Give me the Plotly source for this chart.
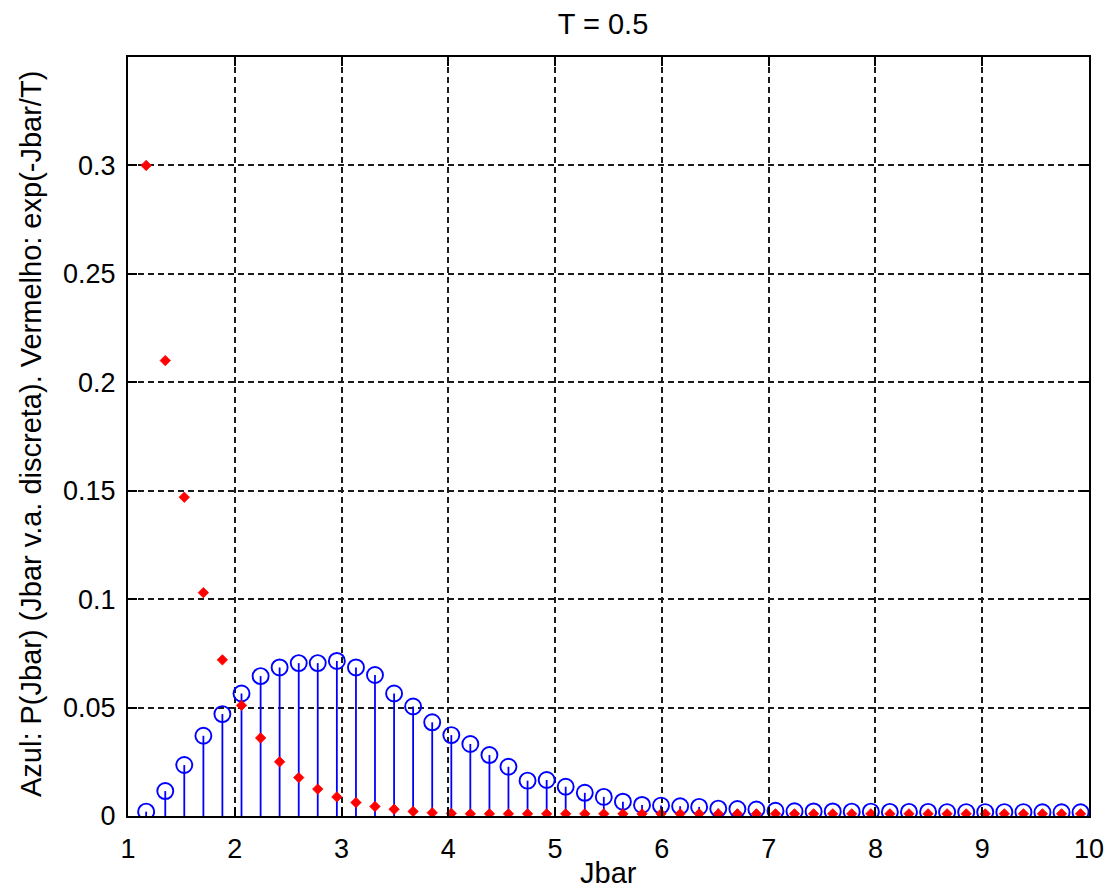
import plotly.graph_objects as go

# Jbar sample positions (discrete support)
jbar = [1.170, 1.349, 1.527, 1.706, 1.884, 2.063, 2.242, 2.420, 2.599, 2.777,
        2.956, 3.135, 3.313, 3.492, 3.670, 3.849, 4.028, 4.206, 4.385, 4.563,
        4.742, 4.921, 5.099, 5.278, 5.456, 5.635, 5.814, 5.992, 6.171, 6.349,
        6.528, 6.707, 6.885, 7.064, 7.242, 7.421, 7.600, 7.778, 7.957, 8.135,
        8.314, 8.493, 8.671, 8.850, 9.028, 9.207, 9.386, 9.564, 9.743, 9.921]

# Blue: P(Jbar), discrete random variable
p_jbar = [0.0020, 0.0115, 0.0235, 0.0370, 0.0470, 0.0565, 0.0645, 0.0685, 0.0705, 0.0705,
          0.0715, 0.0685, 0.0650, 0.0565, 0.0505, 0.0432, 0.0373, 0.0332, 0.0281, 0.0227,
          0.0163, 0.0166, 0.0135, 0.0107, 0.0088, 0.0066, 0.0051, 0.0048, 0.0045, 0.0042,
          0.0034, 0.0032, 0.0030, 0.0024, 0.0022, 0.0021, 0.0021, 0.0020, 0.0020, 0.0019,
          0.0019, 0.0019, 0.0018, 0.0018, 0.0018, 0.0018, 0.0018, 0.0017, 0.0017, 0.0017]

# Red: exp(-Jbar/T)
exp_curve = [0.3000, 0.2100, 0.1470, 0.1030, 0.0720, 0.0510, 0.0360, 0.0250, 0.0177, 0.0124,
             0.0088, 0.0062, 0.0044, 0.0031, 0.0021, 0.0015, 0.0012, 0.0010, 0.0010, 0.0010,
             0.0010, 0.0010, 0.0010, 0.0010, 0.0010, 0.0010, 0.0010, 0.0010, 0.0010, 0.0010,
             0.0010, 0.0010, 0.0010, 0.0010, 0.0010, 0.0010, 0.0010, 0.0010, 0.0010, 0.0010,
             0.0010, 0.0010, 0.0010, 0.0010, 0.0010, 0.0010, 0.0010, 0.0010, 0.0010, 0.0010]

x_ticks = [1, 2, 3, 4, 5, 6, 7, 8, 9, 10]
y_ticks = [0, 0.05, 0.1, 0.15, 0.2, 0.25, 0.3]
y_tick_labels = ["0", "0.05", "0.1", "0.15", "0.2", "0.25", "0.3"]

title_text = "T = 0.5"
x_title = "Jbar"
y_title = "Azul: P(Jbar) (Jbar v.a. discreta). Vermelho: exp(-Jbar/T)"

FONT = "Liberation Sans, Arial, sans-serif"
TICK_SIZE = 27
LABEL_SIZE = 29

# plot area in pixels (for placing the free text)
PL, PR, PT, PB = 128, 1089, 57, 816
PW, PH = PR - PL, PB - PT

# stem lines from the baseline up to each value
stem_x, stem_y = [], []
for xv, yv in zip(jbar, p_jbar):
    stem_x += [xv, xv, None]
    stem_y += [0, yv, None]

fig = go.Figure()
fig.add_trace(go.Scatter(x=stem_x, y=stem_y, mode="lines",
                         line=dict(color="#0000ff", width=1.8),
                         hoverinfo="skip", showlegend=False))
fig.add_trace(go.Scatter(x=jbar, y=p_jbar, mode="markers",
                         marker=dict(symbol="circle-open", size=16, color="#0000ff",
                                     line=dict(color="#0000ff", width=1.9)),
                         showlegend=False))
fig.add_trace(go.Scatter(x=jbar, y=exp_curve, mode="markers",
                         marker=dict(symbol="diamond", size=8, color="#ff0000",
                                     line=dict(color="#ff0000", width=0.8)),
                         showlegend=False))

axis_common = dict(
    showline=True, linecolor="black", linewidth=2, mirror="ticks",
    ticks="inside", ticklen=9, tickcolor="black", tickwidth=1.5,
    showgrid=True, gridcolor="#1a1a1a", gridwidth=1.6, griddash="6px,4px",
    zeroline=False, automargin=False,
    tickfont=dict(family=FONT, size=TICK_SIZE, color="black"),
)

fig.update_xaxes(range=[1, 10], tickvals=x_ticks, ticktext=[str(v) for v in x_ticks],
                 ticklabelstandoff=8, **axis_common)
fig.update_yaxes(range=[0, 0.35], tickvals=y_ticks, ticktext=y_tick_labels,
                 ticklabelstandoff=5, **axis_common)

fig.update_layout(
    width=1106, height=890,
    margin=dict(l=PL, r=1106 - PR, t=PT, b=890 - PB),
    paper_bgcolor="white", plot_bgcolor="white",
    font=dict(family=FONT, color="black"),
    title=dict(text=title_text, x=603 / 1106, xanchor="center", xref="container",
               y=1 - 24 / 890, yanchor="middle", yref="container",
               font=dict(family=FONT, size=LABEL_SIZE, color="black")),
    annotations=[
        dict(text=x_title, xref="paper", yref="paper", x=0.5, y=(PB - 873) / PH,
             xanchor="center", yanchor="middle", showarrow=False,
             font=dict(family=FONT, size=LABEL_SIZE, color="black")),
        dict(text=y_title, xref="paper", yref="paper", x=(31 - PL) / PW,
             y=(PB - 434) / PH, xanchor="center", yanchor="middle",
             textangle=-90, showarrow=False,
             font=dict(family=FONT, size=LABEL_SIZE, color="black")),
    ],
)

fig.write_html("out.html")
